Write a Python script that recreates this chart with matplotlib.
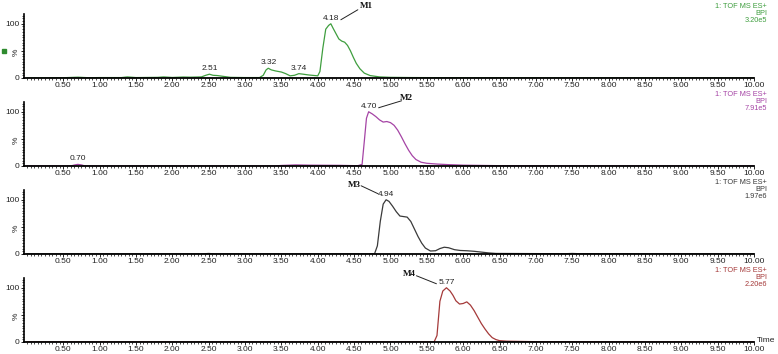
import matplotlib.pyplot as plt
from matplotlib.ticker import MultipleLocator, FixedLocator
from matplotlib.transforms import offset_copy

# chromatogram traces (time / min, relative intensity %)
t1 = [0.0, 0.5, 0.7, 0.85, 1.0, 1.3, 1.38, 1.5, 1.8, 1.88, 2.0, 2.15, 2.25, 2.4, 2.46, 2.51, 2.56, 2.62, 2.7,
      2.8, 3.0, 3.2, 3.25, 3.29, 3.32, 3.36, 3.42, 3.5, 3.56, 3.62, 3.68, 3.74, 3.8, 3.88, 3.96, 4.0,
      4.03, 4.07, 4.11, 4.15, 4.18, 4.21, 4.25, 4.29, 4.33, 4.37, 4.41, 4.45, 4.49, 4.53, 4.58, 4.64,
      4.72, 4.85, 5.0, 5.3, 6.0, 7.0, 10.0]
y1 = [0.0, 0.5, 1.5, 0.5, 0.8, 0.8, 2.0, 0.8, 1.2, 2.0, 1.0, 1.8, 1.5, 2.0, 5.0, 7.0, 5.0, 4.5, 3.0,
      1.2, 0.8, 0.8, 5.0, 15.0, 18.0, 15.0, 13.0, 11.0, 8.0, 4.0, 5.0, 8.0, 7.0, 5.5, 4.5, 4.0,
      12.0, 55.0, 90.0, 97.0, 100.0, 92.0, 82.0, 72.0, 68.0, 66.0, 60.0, 50.0, 38.0, 27.0, 17.0, 9.0,
      4.5, 2.0, 1.2, 0.8, 0.5, 0.3, 0.0]

t2 = [0.0, 0.6, 0.66, 0.7, 0.75, 0.8, 3.4, 3.5, 3.7, 3.9, 4.3, 4.55, 4.61, 4.64, 4.67, 4.7, 4.75,
      4.8, 4.85, 4.9, 4.95, 5.0, 5.05, 5.1, 5.15, 5.2, 5.25, 5.3, 5.35, 5.42, 5.5, 5.65, 5.8, 6.0,
      6.5, 7.0, 10.0]
y2 = [0.0, 0.0, 2.0, 3.0, 2.0, 0.0, 0.0, 1.0, 2.0, 1.5, 1.2, 0.5, 3.0, 45.0, 88.0, 100.0, 96.0,
      91.0, 85.0, 81.0, 82.0, 80.0, 75.0, 66.0, 54.0, 41.0, 29.0, 19.0, 12.0, 7.0, 5.0, 3.5, 2.5, 1.5,
      0.6, 0.3, 0.0]

t3 = [0.0, 2.4, 2.5, 2.6, 4.78, 4.82, 4.86, 4.9, 4.94, 4.98, 5.03, 5.08, 5.13, 5.18, 5.23, 5.28,
      5.33, 5.38, 5.43, 5.48, 5.55, 5.62, 5.68, 5.74, 5.8, 5.88, 5.96, 6.05, 6.15, 6.25, 6.35, 6.45,
      7.4, 7.5, 7.6, 10.0]
y3 = [0.0, 0.0, 1.0, 0.0, 0.0, 15.0, 60.0, 92.0, 100.0, 97.0, 88.0, 78.0, 70.0, 69.0, 68.0, 60.0,
      46.0, 32.0, 20.0, 11.0, 5.5, 6.0, 10.0, 12.5, 11.5, 8.0, 6.5, 6.0, 5.0, 3.5, 2.0, 1.0,
      0.5, 1.0, 0.5, 0.0]

t4 = [0.0, 1.1, 5.6, 5.64, 5.68, 5.72, 5.77, 5.82, 5.86, 5.9, 5.95, 6.0, 6.05, 6.1, 6.15, 6.2, 6.25,
      6.3, 6.35, 6.4, 6.45, 6.5, 6.6, 6.8, 7.0, 10.0]
y4 = [0.0, 0.0, 0.0, 12.0, 75.0, 94.0, 100.0, 94.0, 86.0, 76.0, 70.0, 71.0, 74.0, 68.0, 58.0, 46.0,
      34.0, 24.0, 15.0, 8.0, 4.5, 2.5, 1.5, 1.0, 0.6, 0.0]

colors = ['#3f9e3f', '#a544a5', '#3a3a3a', '#a53a3a']
scales = ['3.20e5', '7.91e5', '1.97e6', '2.20e6']
peaks = [4.18, 4.70, 4.94, 5.77]
names = ['M1', 'M2', 'M3', 'M4']
# small peak labels (time, height)
minor_labels = [[(2.51, 7.0), (3.32, 18.0), (3.74, 8.0)], [(0.70, 3.0)], [], []]
# leader line: start offset, end offset, name offset (pixels from peak top)
leaders = [((10, 4), (27, 14), (36, 18)),
           ((10, 4), (33, 11), (38, 14)),
           ((-8, 6), (-25, 14), (-32, 15)),
           ((-10, 4), (-30, 12), (-37, 14))]

traces = [(t1, y1), (t2, y2), (t3, y3), (t4, y4)]

plt.rcParams['font.family'] = ['Liberation Sans', 'DejaVu Sans']
fig = plt.figure(figsize=(7.78, 3.54), dpi=100)
W, H = 778.0, 354.0
left, right = 24 / W, 754 / W

for i in range(4):
    bottom_px = 78 + 88 * i
    ax = fig.add_axes([left, 1 - bottom_px / H, right - left, 64 / H])
    t, y = traces[i]
    ax.plot(t, y, color=colors[i], lw=0.9)
    ax.set_xlim(-0.04, 10.0)
    ax.set_ylim(0, 118)
    for s in ['top', 'right']:
        ax.spines[s].set_visible(False)
    ax.spines['left'].set_bounds(0, 118)
    ax.spines['left'].set_linewidth(1.2)
    ax.spines['bottom'].set_linewidth(1.3)

    ax.xaxis.set_major_locator(FixedLocator([0.5 * k for k in range(1, 21)]))
    ax.xaxis.set_minor_locator(MultipleLocator(0.05))
    ax.set_xticklabels(['%.2f' % (0.5 * k) for k in range(1, 21)])
    ax.yaxis.set_major_locator(FixedLocator([0, 50, 100]))
    ax.yaxis.set_minor_locator(MultipleLocator(5))
    ax.set_yticklabels(['0', '%', '100'])
    ax.get_yticklabels()[1].set_rotation(90)
    ax.tick_params(axis='both', which='major', labelsize=6, length=2.2, width=0.7, pad=0.8,
                   colors='#222222')
    ax.tick_params(axis='both', which='minor', length=1.4, width=0.5)

    # header text on the right
    hdr_y = 1 - (bottom_px - 75) / H
    fig.text(767 / W, hdr_y, '1: TOF MS ES+\nBPI\n' + scales[i],
             ha='right', va='top', fontsize=5.3, color=colors[i], linespacing=1.05,
             multialignment='right')

    # peak labels
    pk = peaks[i]
    ax.annotate('%.2f' % pk, xy=(pk, 100), xytext=(0, 1.5), textcoords='offset points',
                ha='center', va='bottom', fontsize=6, color='#222222')
    for (mt, mh) in minor_labels[i]:
        ax.annotate('%.2f' % mt, xy=(mt, mh), xytext=(0, 1.5), textcoords='offset points',
                    ha='center', va='bottom', fontsize=6, color='#222222')

    (sx, sy), (ex, ey), (nx, ny) = leaders[i]
    tr_s = offset_copy(ax.transData, fig=fig, x=sx, y=sy, units='dots')
    tr_e = offset_copy(ax.transData, fig=fig, x=ex, y=ey, units='dots')
    tr_n = offset_copy(ax.transData, fig=fig, x=nx, y=ny, units='dots')
    ax.annotate('', xy=(pk, 100), xycoords=tr_s, xytext=(pk, 100), textcoords=tr_e,
                arrowprops=dict(arrowstyle='-', lw=0.7, color='#222222', shrinkA=0, shrinkB=0),
                annotation_clip=False)
    ax.text(pk, 100, names[i], transform=tr_n, ha='center', va='center', fontsize=6.5,
            fontweight='bold', family='Liberation Serif', color='#111111', clip_on=False)

    if i == 0:
        ax.plot([-0.027], [0.42], marker='s', ms=3.5, color='#2e8b2e', transform=ax.transAxes,
                clip_on=False)
    if i == 3:
        ax.text(757 / W, 1 - 341 / H, 'Time', transform=fig.transFigure, fontsize=6,
                ha='left', va='center', color='#222222')

fig.savefig('out.png', dpi=100)
